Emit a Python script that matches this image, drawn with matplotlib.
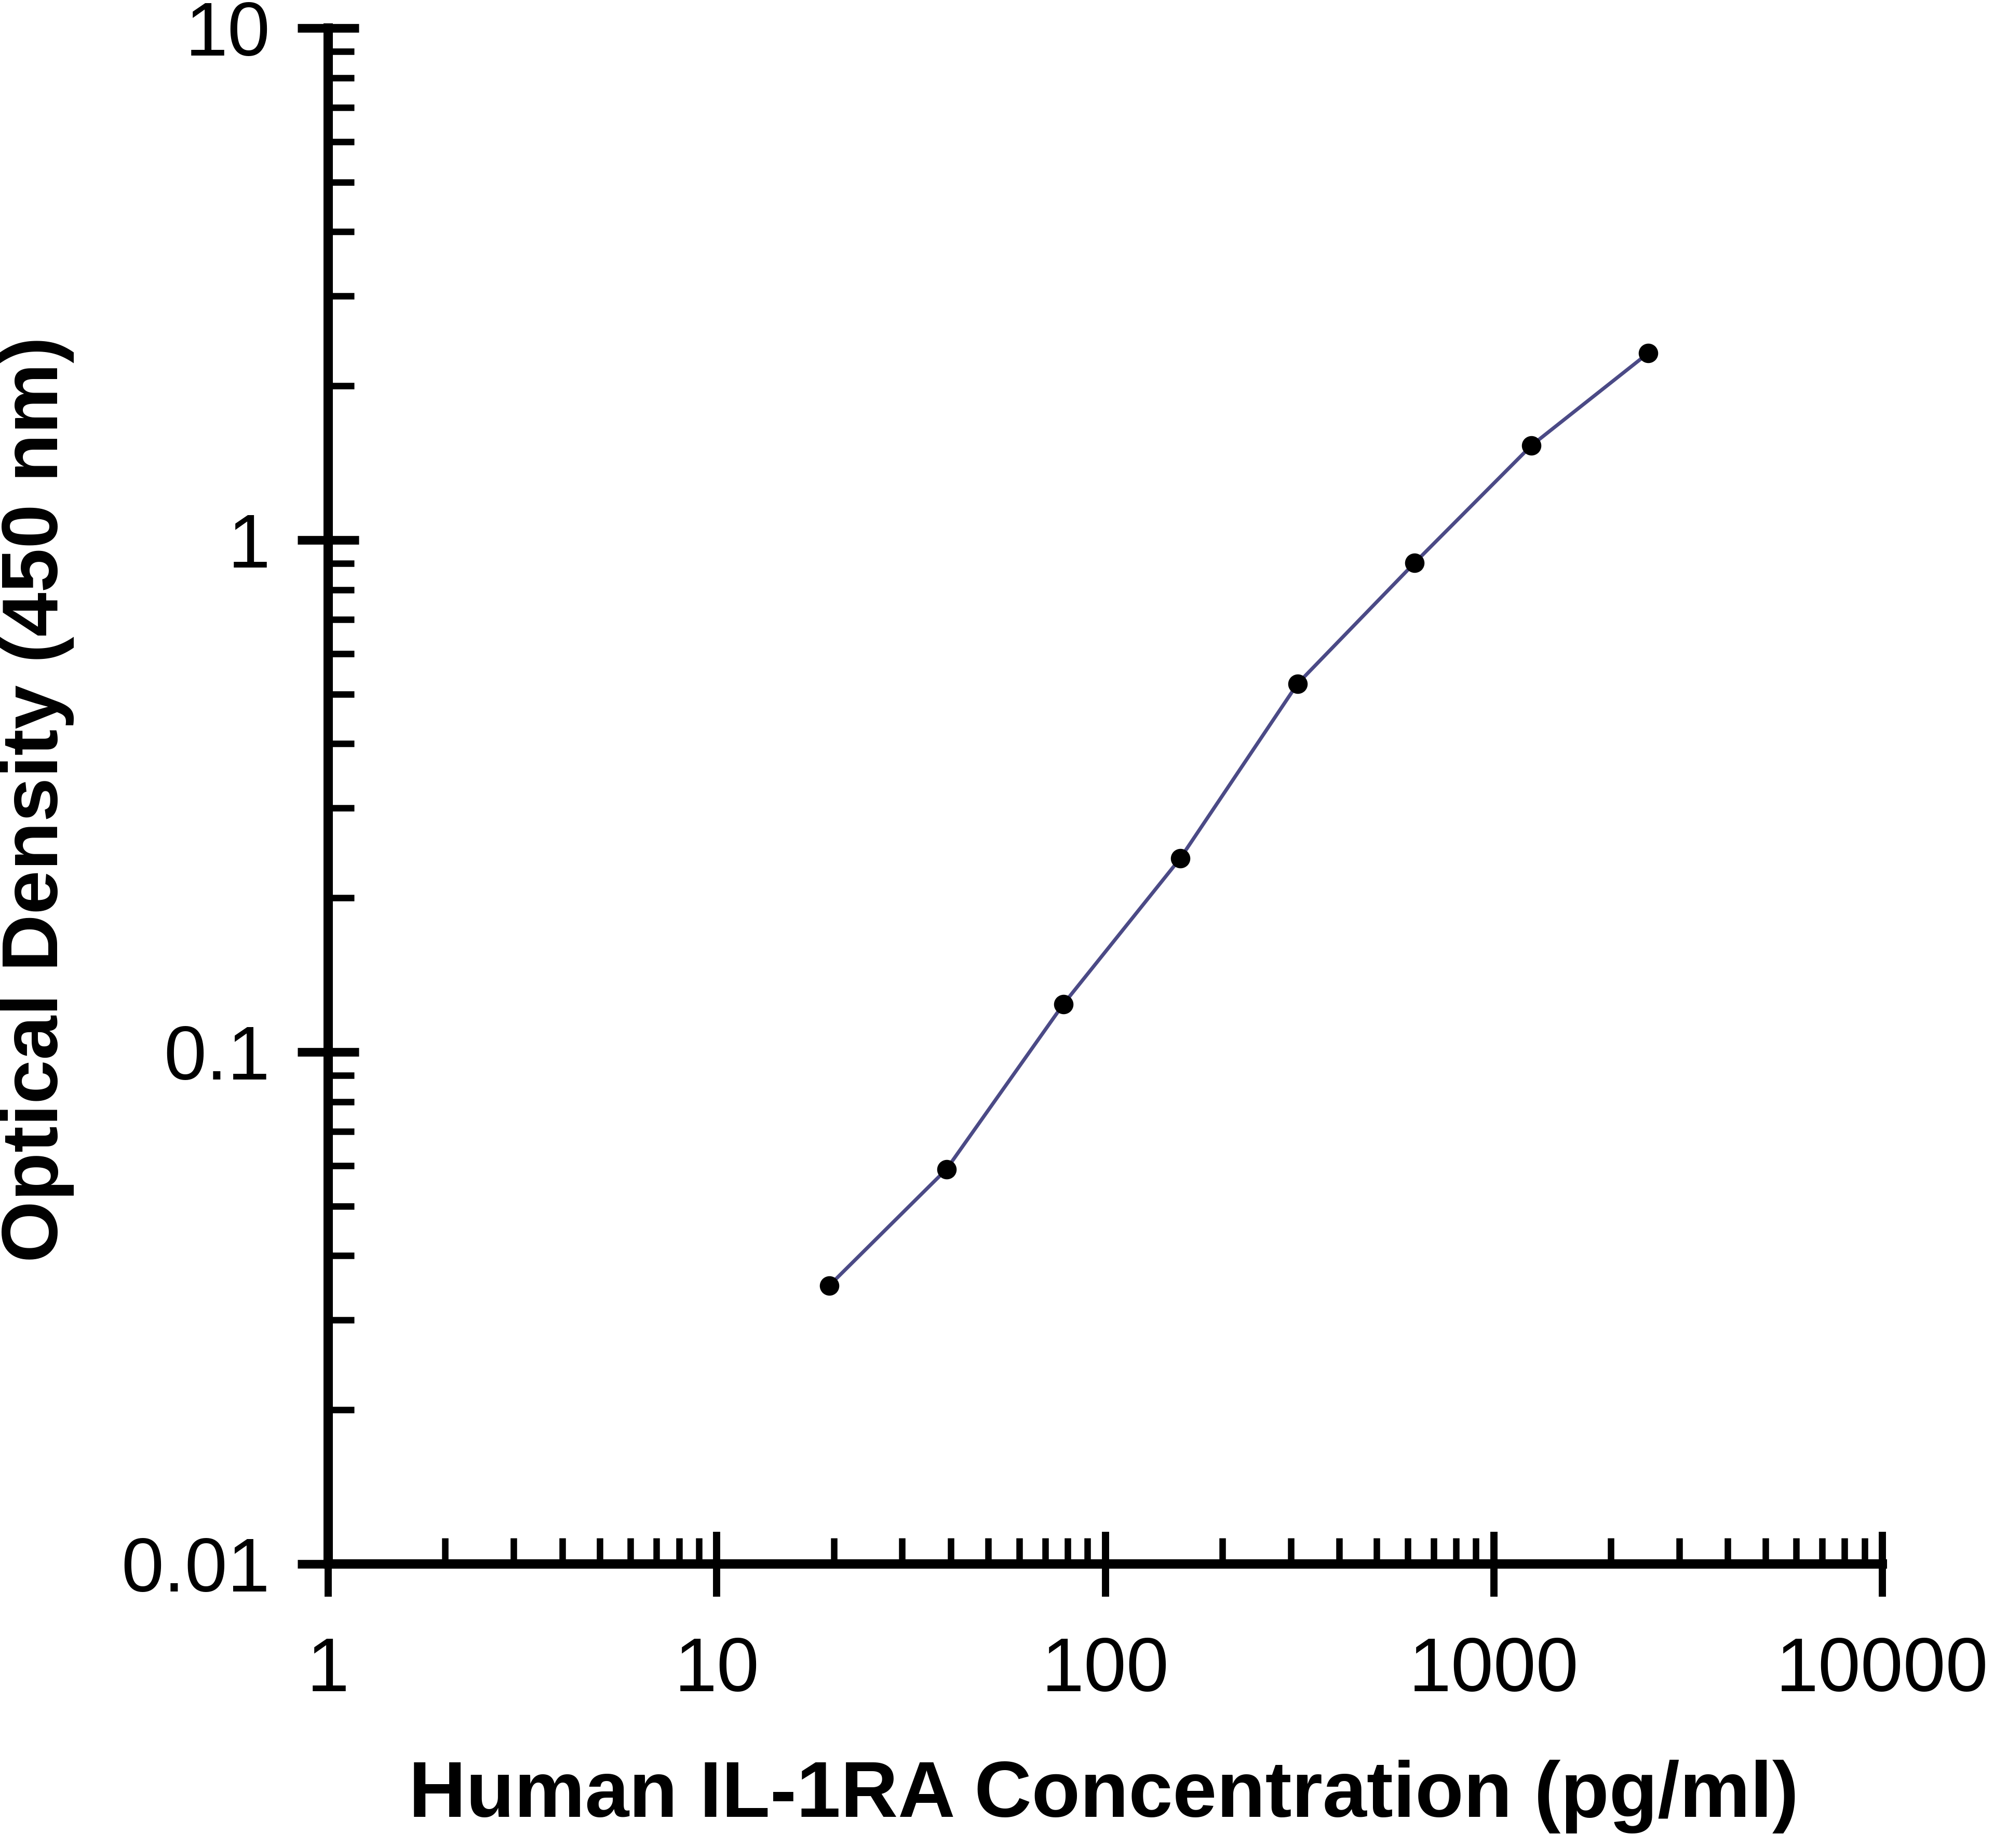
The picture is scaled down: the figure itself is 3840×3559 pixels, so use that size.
import matplotlib
matplotlib.use('Agg')
import matplotlib.pyplot as plt
from matplotlib.ticker import LogLocator, FixedFormatter, NullFormatter

plt.rcParams['font.family'] = ['Liberation Sans', 'DejaVu Sans']

# standard curve data
conc = [19.5, 39, 78, 156, 312.5, 625, 1250, 2500]
od = [0.035, 0.059, 0.124, 0.239, 0.524, 0.902, 1.53, 2.32]

x_ticks = [1, 10, 100, 1000, 10000]
x_labels = ['1', '10', '100', '1000', '10000']
y_ticks = [0.01, 0.1, 1, 10]
y_labels = ['0.01', '0.1', '1', '10']

fig = plt.figure(figsize=(38.4, 35.59), dpi=100)
ax = fig.add_axes([0.1646, 0.1537, 0.7794, 0.8311])

ax.plot(conc, od, color='#4b4a86', linewidth=5, zorder=2)
ax.plot(conc, od, linestyle='none', marker='o', markersize=26,
        color='black', zorder=3)

ax.set_xscale('log')
ax.set_yscale('log')
ax.set_xlim(1, 10000)
ax.set_ylim(0.01, 10)

ax.set_xticks(x_ticks)
ax.xaxis.set_major_formatter(FixedFormatter(x_labels))
ax.set_yticks(y_ticks)
ax.yaxis.set_major_formatter(FixedFormatter(y_labels))
ax.xaxis.set_minor_locator(LogLocator(base=10, subs=range(2, 10)))
ax.yaxis.set_minor_locator(LogLocator(base=10, subs=range(2, 10)))
ax.xaxis.set_minor_formatter(NullFormatter())
ax.yaxis.set_minor_formatter(NullFormatter())

for side in ['top', 'right']:
    ax.spines[side].set_visible(False)
for side in ['left', 'bottom']:
    ax.spines[side].set_linewidth(13)

ax.tick_params(axis='x', which='major', direction='inout', length=90,
               width=10, labelsize=106, pad=55)
ax.tick_params(axis='x', which='minor', direction='in', length=36, width=9)
ax.tick_params(axis='y', which='major', direction='inout', length=85,
               width=12, labelsize=106, pad=38)
ax.tick_params(axis='y', which='minor', direction='in', length=36, width=9)

# nudge the top label so it stays inside the figure like the reference
for lbl in ax.get_yticklabels():
    lbl.set_verticalalignment('center_baseline')

ax.set_xlabel('Human IL-1RA Concentration (pg/ml)', fontsize=110,
              fontweight='bold', va='center')
ax.xaxis.set_label_coords(0.499, -0.1515)
ax.set_ylabel('Optical Density (450 nm)', fontsize=110,
              fontweight='bold', va='center')
ax.yaxis.set_label_coords(-0.187, 0.498)

fig.savefig('out.png', dpi=100, facecolor='white')
